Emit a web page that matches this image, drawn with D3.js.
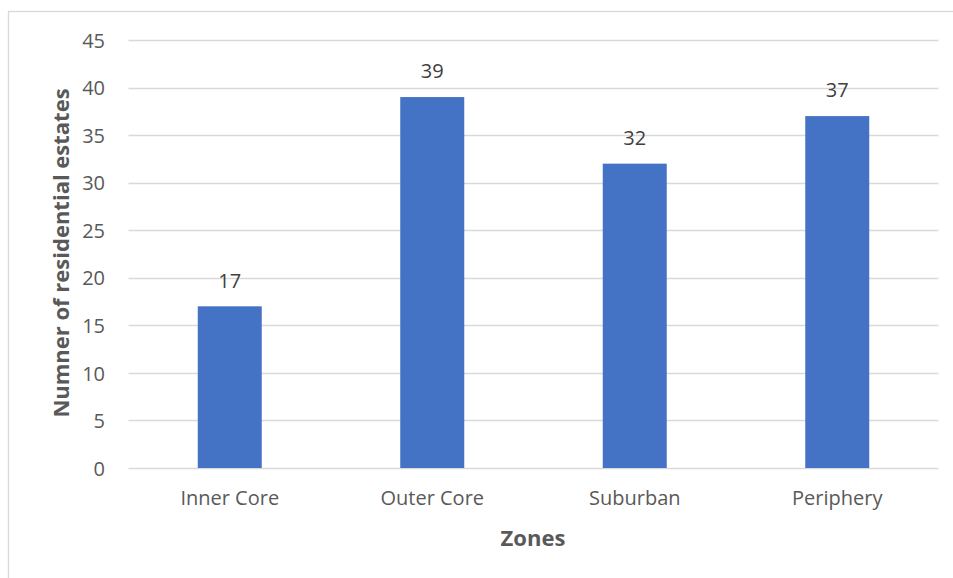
<!DOCTYPE html>
<html><head><meta charset="utf-8">
<script src="https://cdn.jsdelivr.net/npm/d3@7"></script>
<style>body{margin:0;background:#fff;} text{font-family:"Open Sans","Noto Sans",sans-serif;}</style>
</head><body>
<svg id="c" width="953" height="578"></svg>
<script>
const categories = ["Inner Core","Outer Core","Suburban","Periphery"];
const values = [17,39,32,37];
const yTicks = [0,5,10,15,20,25,30,35,40,45];
const xTitle = "Zones";
const yTitle = "Numner of residential estates";

(function(){
const svg = d3.select("#c");
svg.append("rect").attr("x",8.5).attr("y",11.5).attr("width",960).attr("height",600)
  .attr("fill","#fff").attr("stroke","#d9d9d9").attr("stroke-width",1.3);

const pL=128.5, pR=938.5, pT=40, pB=468;
const x = d3.scaleBand().domain(categories).range([pL,pR]).paddingInner(0.3).paddingOuter(0.15);
const y = d3.scaleLinear().domain([0,45]).range([pB,pT]);

const g = svg.append("g");
g.selectAll("line.grid").data(yTicks).join("line")
  .attr("x1",pL).attr("x2",pR)
  .attr("y1",d=>Math.round(y(d))+0.5).attr("y2",d=>Math.round(y(d))+0.5)
  .attr("stroke","#d9d9d9").attr("stroke-width",1.3);

const yAxis = d3.axisLeft(y).tickValues(yTicks).tickSize(0).tickPadding(0);
const ya = svg.append("g").attr("transform",`translate(105,0)`).call(yAxis);
ya.select(".domain").remove();
ya.selectAll("text").attr("fill","#595959").style("font-size","20px").style("font-family",'"Open Sans",sans-serif').attr("dy","0.36em");

const bw = 64;
g.selectAll("rect.bar").data(values).join("rect")
  .attr("x",(d,i)=>x(categories[i])+x.bandwidth()/2-bw/2)
  .attr("width",bw)
  .attr("y",d=>y(d)).attr("height",d=>y(0)-y(d))
  .attr("fill","#4472c4");

g.selectAll("text.lbl").data(values).join("text")
  .attr("x",(d,i)=>x(categories[i])+x.bandwidth()/2)
  .attr("y",d=>y(d)-26).attr("text-anchor","middle")
  .attr("fill","#404040").style("font-size","20px").attr("dy","0.36em").text(d=>d);

const xAxis = d3.axisBottom(x).tickSize(0).tickPadding(0);
const xa = svg.append("g").attr("transform",`translate(0,${pB+30})`).call(xAxis);
xa.select(".domain").remove();
xa.selectAll("text").attr("fill","#595959").style("font-size","20px").style("font-family",'"Open Sans",sans-serif').attr("dy","0.36em");

svg.append("text").attr("x",533).attr("y",538).attr("text-anchor","middle").attr("dy","0.36em")
  .attr("fill","#595959").style("font-size","22px").style("font-weight","bold").text(xTitle);
svg.append("text").attr("transform","translate(61,253) rotate(-90)").attr("text-anchor","middle").attr("dy","0.36em")
  .attr("fill","#595959").style("font-size","22px").style("font-weight","bold").text(yTitle);
})();
</script>
</body></html>
